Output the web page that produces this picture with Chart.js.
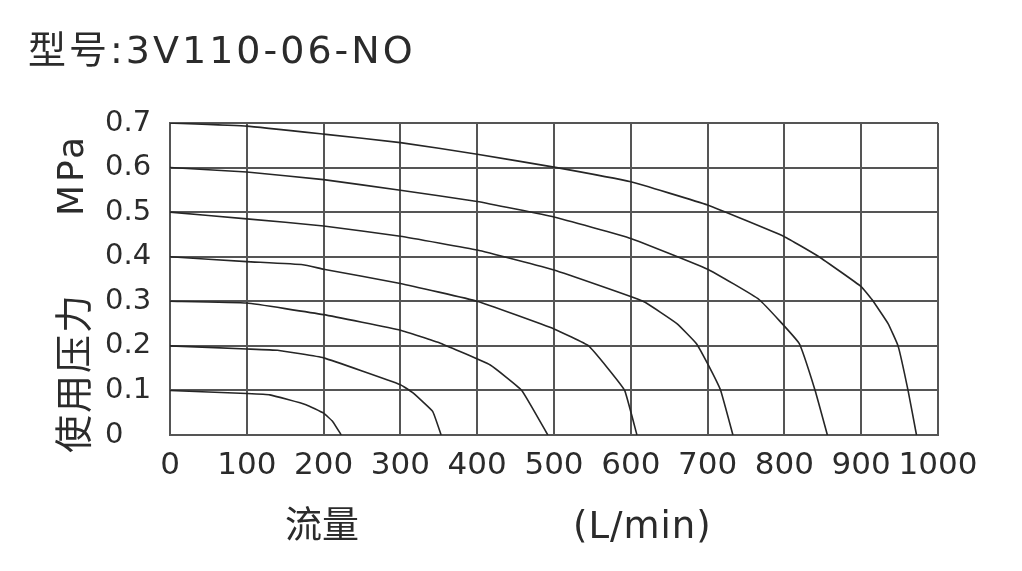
<!DOCTYPE html>
<html>
<head>
<meta charset="utf-8">
<script src="https://cdn.jsdelivr.net/npm/chart.js@4.4.0/dist/chart.umd.min.js"></script>
<style>
    body { margin: 0; background: #fff; }
    #wrap { position: relative; width: 1022px; height: 571px; }
    #grafico { position: absolute; left: 0; top: 0; }
    .txt { position: absolute; color: #2b2b2b; font-family: "DejaVu Sans", "Noto Sans CJK SC", sans-serif; white-space: nowrap; }
    .tituloModelo { left: 28px; top: 30px; font-size: 38px; line-height: 40px; letter-spacing: 3px; }
    .rot { transform: translate(-50%, -50%) rotate(-90deg); }
    .eixoMpa { left: 70px; top: 175px; font-size: 36px; letter-spacing: 3px; }
    .eixoPressao { left: 70px; top: 373px; font-size: 38px; letter-spacing: 2px; }
    .eixoVazao { left: 285px; top: 505px; font-size: 37px; line-height: 42px; }
    .eixoUnidade { left: 573px; top: 505px; font-size: 37px; line-height: 42px; letter-spacing: 1px; }
</style>
</head>
<body>
<div id="wrap">
    <canvas id="grafico" width="1022" height="571"></canvas>
    <div class="txt tituloModelo">型号:3V110-06-NO</div>
    <div class="txt rot eixoMpa">MPa</div>
    <div class="txt rot eixoPressao">使用压力</div>
    <div class="txt eixoVazao">流量</div>
    <div class="txt eixoUnidade">(L/min)</div>
</div>
<script>
// vazao (L/min) e pressao (MPa) de cada curva
const vazao01 = [0, 100, 130, 177, 200, 212, 223];
const pressao01 = [0.1, 0.093, 0.09, 0.068, 0.049, 0.03, 0];

const vazao02 = [0, 100, 140, 200, 300, 316, 342, 353];
const pressao02 = [0.2, 0.193, 0.19, 0.173, 0.113, 0.095, 0.053, 0];

const vazao03 = [0, 100, 200, 300, 352, 417, 458, 492];
const pressao03 = [0.3, 0.296, 0.27, 0.235, 0.206, 0.157, 0.1, 0];

const vazao04 = [0, 100, 173, 200, 300, 400, 500, 545, 570, 592, 608];
const pressao04 = [0.4, 0.389, 0.382, 0.372, 0.34, 0.3, 0.238, 0.2, 0.15, 0.1, 0];

const vazao05 = [0, 100, 200, 300, 400, 500, 616, 660, 685, 700, 717, 733];
const pressao05 = [0.5, 0.485, 0.469, 0.446, 0.415, 0.37, 0.3, 0.25, 0.206, 0.16, 0.1, 0];

const vazao06 = [0, 100, 200, 300, 400, 500, 600, 700, 767, 819, 840, 856];
const pressao06 = [0.6, 0.59, 0.573, 0.549, 0.524, 0.489, 0.441, 0.372, 0.304, 0.206, 0.1, 0];

const vazao07 = [0, 100, 200, 300, 400, 500, 600, 700, 800, 845, 900, 914, 935, 948, 961, 972];
const pressao07 = [0.7, 0.693, 0.675, 0.656, 0.63, 0.601, 0.568, 0.516, 0.445, 0.4, 0.333, 0.304, 0.25, 0.2, 0.1, 0];

const ticksVazao = [0, 100, 200, 300, 400, 500, 600, 700, 800, 900, 1000];
const ticksPressao = [0, 0.1, 0.2, 0.3, 0.4, 0.5, 0.6, 0.7];

function montarCurva(xs, ys) {
    return {
        data: xs.map((x, i) => ({ x: x, y: ys[i] })),
        borderColor: '#262626',
        borderWidth: 1.6,
        pointRadius: 0,
        tension: 0.1,
        fill: false,
    };
}

var contexto = document.getElementById('grafico').getContext('2d');
var grafico = new Chart(contexto, {
    type: 'line',
    data: {
        datasets: [
            montarCurva(vazao01, pressao01),
            montarCurva(vazao02, pressao02),
            montarCurva(vazao03, pressao03),
            montarCurva(vazao04, pressao04),
            montarCurva(vazao05, pressao05),
            montarCurva(vazao06, pressao06),
            montarCurva(vazao07, pressao07),
        ],
    },
    options: {
        responsive: false,
        animation: false,
        layout: { padding: { left: 105, top: 123, right: 84, bottom: 0 } },
        plugins: { legend: { display: false }, tooltip: { enabled: false } },
        scales: {
            x: {
                type: 'linear',
                min: 0,
                max: 1000,
                afterBuildTicks: s => { s.ticks = ticksVazao.map(v => ({ value: v })); },
                afterFit: s => { s.height = 136; },
                grid: { color: '#555', lineWidth: 2, drawTicks: false },
                border: { color: '#555', width: 2 },
                ticks: {
                    color: '#2b2b2b',
                    padding: 12,
                    maxRotation: 0,
                    autoSkip: false,
                    font: { family: 'DejaVu Sans', size: 31 },
                    callback: v => String(v),
                },
            },
            y: {
                type: 'linear',
                min: 0,
                max: 0.7,
                afterBuildTicks: s => { s.ticks = ticksPressao.map(v => ({ value: v })); },
                afterFit: s => { s.width = 65; },
                grid: { color: '#555', lineWidth: 2, drawTicks: false },
                border: { color: '#555', width: 2 },
                ticks: {
                    color: '#2b2b2b',
                    crossAlign: 'far',
                    autoSkip: false,
                    font: { family: 'DejaVu Sans', size: 29 },
                    callback: v => (v === 0 ? '0' : v.toFixed(1)),
                },
            },
        },
    },
});
</script>
</body>
</html>
